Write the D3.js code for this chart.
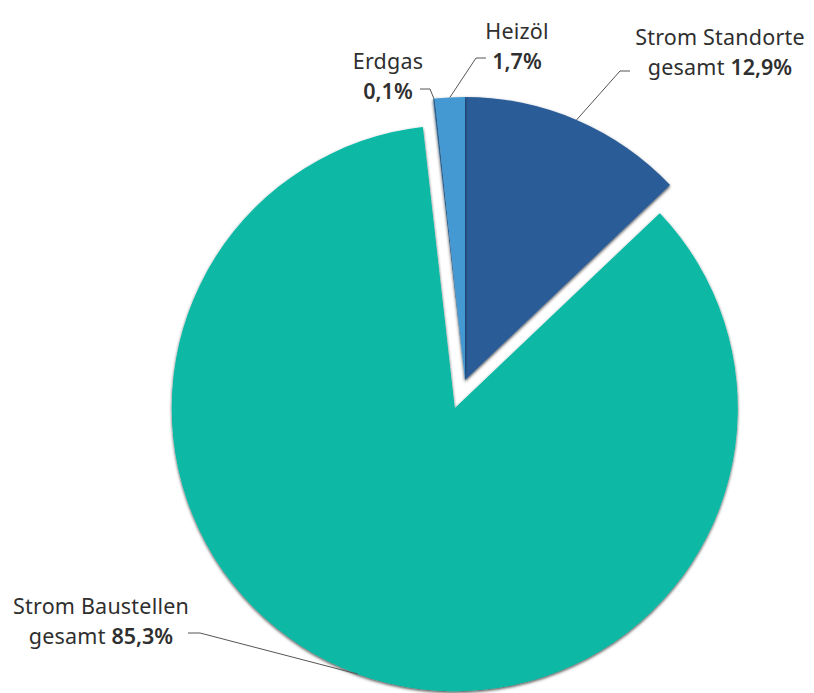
<!DOCTYPE html>
<html>
  <head>
    <meta charset="UTF-8">
    <style>
      body { margin: 0; background: #fff; }
      text { font-family: "Noto Sans", sans-serif; font-size: 21.5px; fill: #2f2f2f; text-anchor: middle; letter-spacing: 0.2px; }
      .val { font-weight: 600; letter-spacing: 0; }
      .lead { fill: none; stroke: #555; stroke-width: 1; }
    </style>
    <script src="https://d3js.org/d3.v7.min.js"></script>
  </head>
  <body>
    <script>
      var categories = ["Strom Standorte", "Strom Baustellen", "Erdgas", "Heizöl"];
      var values = [12.9, 85.3, 0.1, 1.7];
      var valueLabels = ["12,9%", "85,3%", "0,1%", "1,7%"];
      var colors = ["#2a5c98", "#07b9a5", "#3a7fba", "#4499d2"];

      var width = 814, height = 693,
        cx = 465, cy = 380, radius = 283;

      var svg = d3.select("body").append("svg")
        .attr("width", width)
        .attr("height", height);

      var defs = svg.append("defs");
      var f = defs.append("filter").attr("id", "shadow")
        .attr("x", "-10%").attr("y", "-10%").attr("width", "120%").attr("height", "120%");
      f.append("feDropShadow")
        .attr("dx", 0).attr("dy", 1.5)
        .attr("stdDeviation", 1.8)
        .attr("flood-color", "#000")
        .attr("flood-opacity", 0.7);

      var pie = d3.pie().sort(null).value(function(d) { return d; });
      var arcs = pie(values);
      var arc = d3.arc().innerRadius(0).outerRadius(radius);

      // only Strom Baustellen is pulled out
      var explode = [0, 30, 0, 0];
      function offset(d, i) {
        var a = (d.startAngle + d.endAngle) / 2;
        return [Math.sin(a) * explode[i], -Math.cos(a) * explode[i]];
      }

      var g = svg.append("g").attr("transform", "translate(" + cx + "," + cy + ")");

      g.selectAll("path.slice")
        .data(arcs)
        .enter().append("path")
        .attr("class", "slice")
        .attr("d", arc)
        .attr("transform", function(d, i) { return "translate(" + offset(d, i) + ")"; })
        .style("fill", function(d, i) { return colors[i]; })
        .attr("filter", "url(#shadow)");

      // label placement (text anchor and elbow start)
      var labelPos = [
        { x: 720, y: 45, lx: 630, ly: 71, k: -10 },
        { x: 101, y: 614, lx: 188, ly: 633, k: 12 },
        { x: 388, y: 69, lx: 420, ly: 89, k: 10 },
        { x: 517, y: 39, lx: 486, ly: 58, k: -10 }
      ];

      arcs.forEach(function(d, i) {
        var a = (d.startAngle + d.endAngle) / 2;
        var o = offset(d, i);
        var ex = cx + o[0] + Math.sin(a) * radius,
          ey = cy + o[1] - Math.cos(a) * radius;
        var p = labelPos[i];
        svg.append("path")
          .attr("class", "lead")
          .attr("d", "M" + p.lx + "," + p.ly + "L" + (p.lx + p.k) + "," + p.ly + "L" + ex + "," + ey);

        svg.append("text").attr("x", p.x).attr("y", p.y).text(categories[i]);
        var t = svg.append("text").attr("x", p.x).attr("y", p.y + 30);
        if (i < 2) t.append("tspan").text("gesamt ");
        t.append("tspan").attr("class", "val").text(valueLabels[i]);
      });
    </script>
  </body>
</html>
